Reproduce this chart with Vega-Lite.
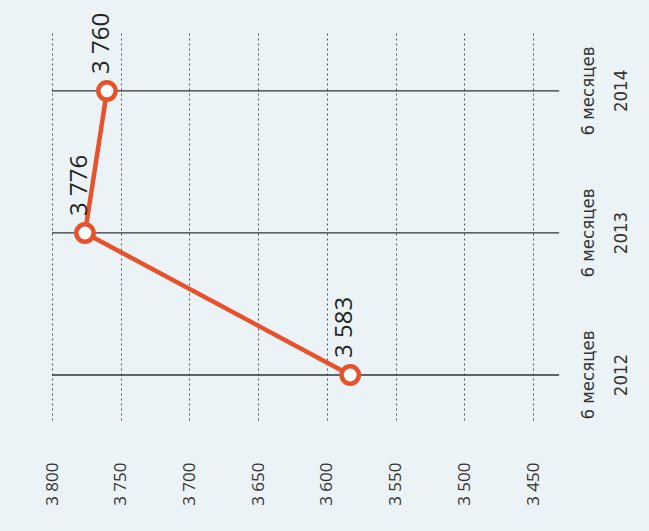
{
  "$schema": "https://vega.github.io/schema/vega-lite/v6.json",
  "autosize": {"type": "none"},
  "padding": {"left": 52, "top": 33, "right": 116, "bottom": 108},
  "width": 481,
  "height": 390,
  "background": "#ecf3f6",
  "config": {
    "view": {"stroke": null},
    "locale": {"number": {"decimal": ",", "thousands": " ", "grouping": [3], "currency": ["", " ₽"]}}
  },
  "data": {
    "values": [
      {"period": "6 месяцев", "year": 2012, "value": 3583},
      {"period": "6 месяцев", "year": 2013, "value": 3776},
      {"period": "6 месяцев", "year": 2014, "value": 3760}
    ]
  },
  "encoding": {
    "y": {
      "field": "year",
      "type": "quantitative",
      "scale": {"domain": [2011.662, 2014.408], "nice": false, "zero": false},
      "axis": null
    }
  },
  "layer": [
    {
      "mark": {"type": "rule", "color": "#333333", "strokeWidth": 1.3},
      "encoding": {
        "x": {
          "datum": 3800,
          "type": "quantitative",
          "scale": {"domain": [3450, 3800], "reverse": true, "nice": false, "zero": false},
          "axis": {
            "orient": "bottom",
            "values": [3450, 3500, 3550, 3600, 3650, 3700, 3750, 3800],
            "format": ",d",
            "grid": true,
            "gridDash": [2, 3],
            "gridColor": "#555555",
            "gridWidth": 1,
            "gridOpacity": 1,
            "domain": false,
            "ticks": false,
            "labelAngle": 270,
            "labelPadding": 39,
            "labelFont": "Open Sans",
            "labelFontSize": 17,
            "labelColor": "#333333",
            "title": null
          }
        },
        "x2": {"datum": 3431}
      }
    },
    {
      "mark": {"type": "line", "color": "#e8522b", "strokeWidth": 4.5},
      "encoding": {
        "x": {"field": "value", "type": "quantitative"},
        "order": {"field": "year"}
      }
    },
    {
      "mark": {"type": "point", "shape": "circle", "filled": false, "fill": "#ffffff", "fillOpacity": 1, "stroke": "#e8522b", "strokeWidth": 4.5, "size": 300, "opacity": 1},
      "encoding": {
        "x": {"field": "value", "type": "quantitative"}
      }
    },
    {
      "mark": {"type": "text", "angle": 270, "align": "left", "baseline": "middle", "dx": 17, "dy": -5, "font": "Open Sans", "fontSize": 24, "letterSpacing": 1.5, "color": "#222222"},
      "encoding": {
        "x": {"field": "value", "type": "quantitative"},
        "text": {"field": "value", "type": "quantitative", "format": ",d"}
      }
    },
    {
      "mark": {"type": "text", "angle": 270, "align": "center", "baseline": "middle", "dy": 55, "font": "DejaVu Sans Condensed, Roboto", "fontSize": 18.5, "color": "#333333"},
      "encoding": {
        "x": {"datum": 3450, "type": "quantitative"},
        "text": {"field": "period", "type": "nominal"}
      }
    },
    {
      "mark": {"type": "text", "angle": 270, "align": "center", "baseline": "middle", "dy": 88, "font": "DejaVu Sans Condensed, Roboto", "fontSize": 18.5, "color": "#333333"},
      "encoding": {
        "x": {"datum": 3450, "type": "quantitative"},
        "text": {"field": "year", "type": "nominal"}
      }
    }
  ]
}
